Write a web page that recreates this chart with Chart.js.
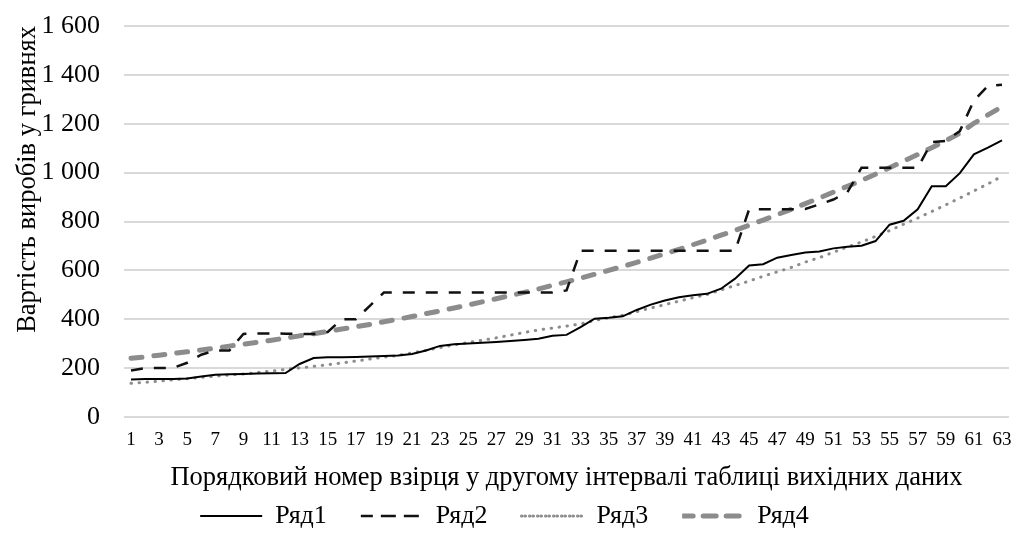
<!DOCTYPE html>
<html>
<head>
<meta charset="utf-8">
<script src="https://cdn.jsdelivr.net/npm/chart.js@4"></script>
<style>
  html, body { margin: 0; padding: 0; background: #fff; }
  #wrap { width: 1014px; height: 539px; }
</style>
</head>
<body>
<div id="wrap"><canvas id="grafik"></canvas></div>
<script>
const nomery = ['1','2','3','4','5','6','7','8','9','10','11','12','13','14','15','16','17','18','19','20',
  '21','22','23','24','25','26','27','28','29','30','31','32','33','34','35','36','37','38','39','40',
  '41','42','43','44','45','46','47','48','49','50','51','52','53','54','55','56','57','58','59','60',
  '61','62','63'];

const ryad1 = [153, 155, 155, 156, 158, 166, 173, 175, 176, 178, 179, 180, 217, 241, 244, 245, 246, 248, 250, 252,
  258, 272, 291, 298, 301, 304, 307, 311, 315, 320, 332, 336, 368, 402, 406, 412, 438, 460, 477, 490,
  498, 504, 525, 566, 620, 625, 652, 663, 673, 677, 690, 697, 701, 720, 787, 803, 850, 944, 944, 998,
  1075, 1102, 1132];

const ryad2 = [190, 200, 201, 201, 222, 255, 272, 272, 340, 342, 342, 341, 340, 340, 348, 400, 400, 455, 509, 509,
  509, 509, 509, 509, 509, 509, 509, 509, 509, 509, 509, 518, 680, 680, 680, 680, 680, 680, 680, 680,
  680, 680, 680, 680, 850, 850, 850, 850, 851, 870, 890, 920, 1020, 1020, 1020, 1020, 1020, 1125, 1130, 1170,
  1295, 1355, 1360];

const ryad3 = [138, 142, 147, 152, 157, 162, 167, 172, 176, 182, 188, 195, 201, 207, 214, 221, 229, 237, 245, 252,
  262, 273, 284, 295, 305, 314, 324, 335, 346, 356, 364, 372, 381, 395, 406, 416, 431, 446, 460, 474,
  488, 501, 520, 538, 556, 576, 594, 612, 634, 652, 674, 696, 716, 739, 763, 789, 814, 841, 868, 896,
  925, 954, 985];

const ryad4 = [240, 246, 253, 260, 267, 274, 282, 290, 298, 306, 314, 323, 332, 341, 350, 360, 369, 379, 390, 400,
  411, 423, 434, 446, 458, 471, 484, 497, 510, 524, 539, 553, 568, 584, 600, 616, 633, 650, 668, 686,
  705, 724, 744, 764, 785, 806, 828, 850, 873, 896, 920, 944, 968, 994, 1020, 1047, 1074, 1102, 1131, 1161,
  1202, 1236, 1270];

Chart.defaults.font.family = "'Liberation Serif', 'Times New Roman', serif";
Chart.defaults.color = '#000';

function tysiachi(v) {
  if (v >= 1000) {
    return Math.floor(v / 1000) + ' ' + String(v % 1000).padStart(3, '0');
  }
  return String(v);
}

const grafik = document.getElementById('grafik');

new Chart(grafik, {
  type: 'line',
  data: {
    labels: nomery,
    datasets: [{
      label: 'Ряд1',
      data: ryad1,
      borderColor: '#000',
      backgroundColor: '#000',
      borderWidth: 2,
      pointRadius: 0,
      tension: 0
    }, {
      label: 'Ряд2',
      data: ryad2,
      borderColor: '#111',
      backgroundColor: '#111',
      borderWidth: 2.5,
      borderDash: [12, 11],
      pointRadius: 0,
      tension: 0
    }, {
      label: 'Ряд3',
      data: ryad3,
      borderColor: '#8c8c8c',
      backgroundColor: '#8c8c8c',
      borderWidth: 3,
      borderDash: [0.5, 7.5],
      borderCapStyle: 'round',
      pointRadius: 0,
      tension: 0
    }, {
      label: 'Ряд4',
      data: ryad4,
      borderColor: '#8c8c8c',
      backgroundColor: '#8c8c8c',
      borderWidth: 5,
      borderDash: [11, 12],
      borderCapStyle: 'round',
      pointRadius: 0,
      tension: 0
    }]
  },
  options: {
    responsive: true,
    maintainAspectRatio: false,
    animation: false,
    layout: {
      padding: { top: 26, right: 5, left: 0, bottom: 0 }
    },
    plugins: {
      tooltip: { enabled: false },
      legend: {
        position: 'bottom',
        labels: {
          boxWidth: 62,
          boxHeight: 0,
          padding: 34,
          font: { size: 26 }
        }
      }
    },
    scales: {
      x: {
        offset: true,
        grid: { display: false, drawTicks: false },
        border: { display: false },
        afterFit: function(scale) {
          scale.height = 52;
          scale.paddingLeft = 0;
          scale.paddingRight = 0;
        },
        ticks: {
          autoSkip: false,
          maxRotation: 0,
          padding: 12,
          font: { size: 19 },
          callback: function(value, index) {
            return index % 2 === 0 ? this.getLabelForValue(value) : '';
          }
        },
        title: {
          display: true,
          text: 'Порядковий номер взірця у другому інтервалі таблиці вихідних даних',
          font: { size: 26.5 },
          padding: { top: 0, bottom: -25 }
        }
      },
      y: {
        min: 0,
        max: 1600,
        grid: { color: '#d9d9d9', lineWidth: 2, drawTicks: false },
        border: { display: false },
        afterFit: function(scale) {
          scale.width = 124;
          scale.paddingTop = 0;
          scale.paddingBottom = 0;
        },
        ticks: {
          stepSize: 200,
          padding: 24,
          font: { size: 26 },
          callback: function(value) { return tysiachi(value); }
        },
        title: {
          display: true,
          text: 'Вартість виробів у гривнях',
          align: 'end',
          font: { size: 26.5 },
          padding: { top: 12, bottom: 0 }
        }
      }
    }
  }
});
</script>
</body>
</html>
